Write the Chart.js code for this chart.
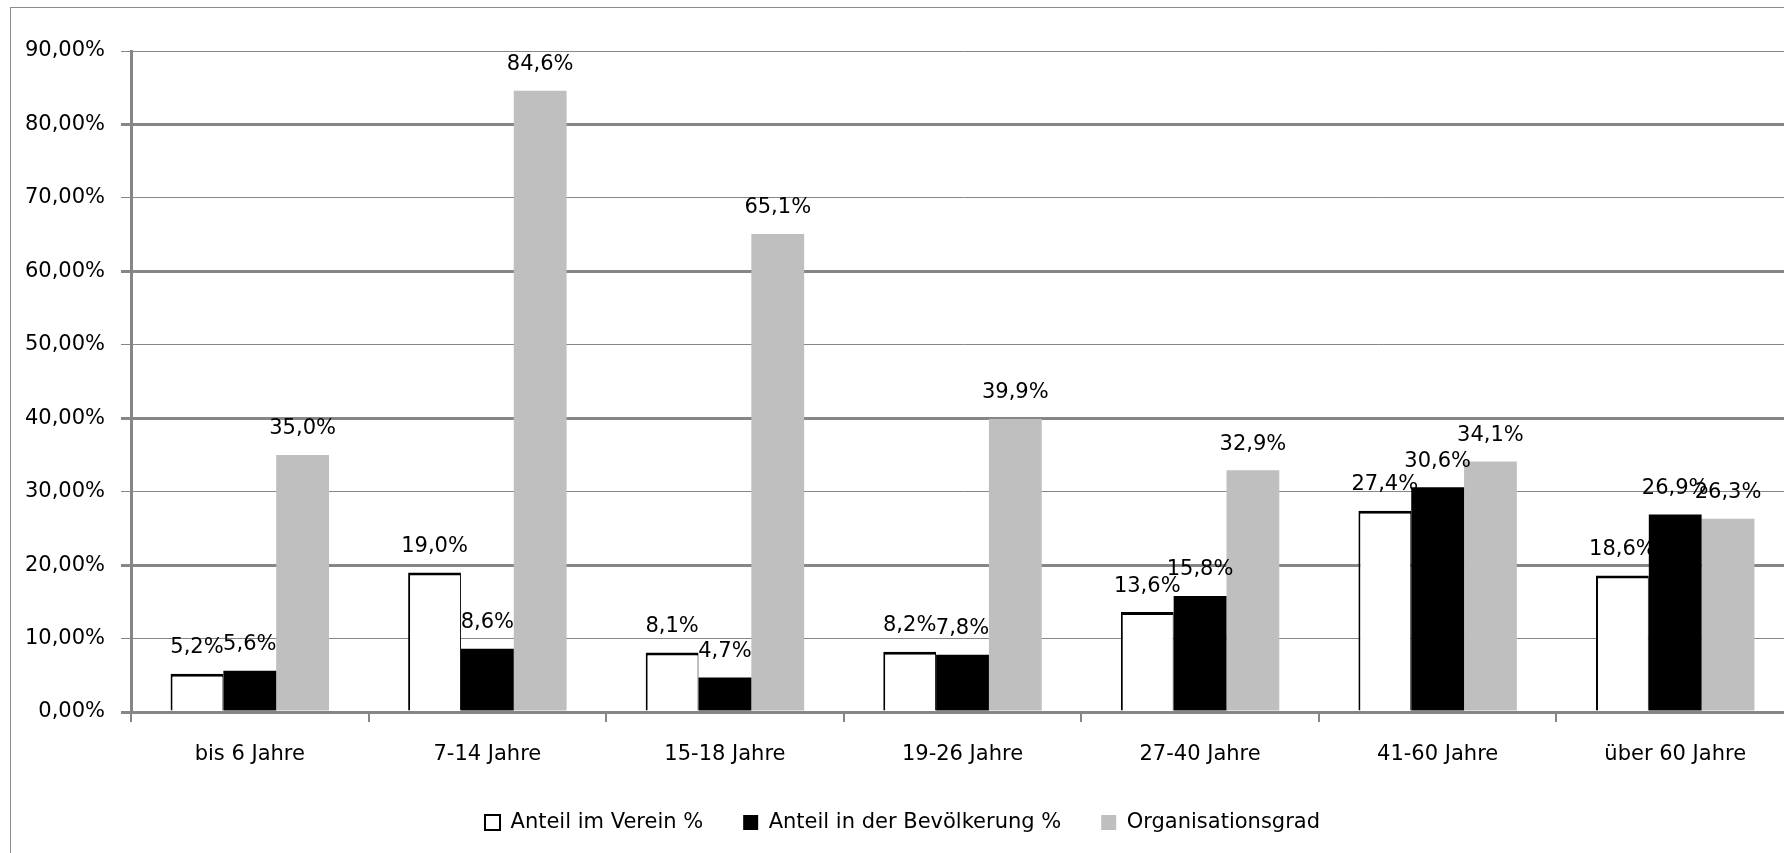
<!DOCTYPE html>
<html>
<head>
<meta charset="utf-8">
<script src="https://cdn.jsdelivr.net/npm/chart.js@4/dist/chart.umd.min.js"></script>
<style>
  html, body { margin: 0; padding: 0; background: #fff; overflow: hidden; }
  #frame {
    position: absolute; left: 10px; top: 7px; width: 1800px; height: 880px;
    border-left: 1px solid #8c8c8c; border-top: 1px solid #8c8c8c;
  }
</style>
</head>
<body>
<div id="frame"><canvas id="chart" width="1784" height="845"></canvas></div>
<script>
const categories = ["bis 6 Jahre", "7-14 Jahre", "15-18 Jahre", "19-26 Jahre", "27-40 Jahre", "41-60 Jahre", "über 60 Jahre"];
const anteilVerein = [5.2, 19.0, 8.1, 8.2, 13.6, 27.4, 18.6];
const anteilBevoelkerung = [5.6, 8.6, 4.7, 7.8, 15.8, 30.6, 26.9];
const organisationsgrad = [35.0, 84.6, 65.1, 39.9, 32.9, 34.1, 26.3];
const yMin = 0, yMax = 90, yStep = 10;

const GRID = "#868686";

function pct(v, d){ return v.toFixed(d).replace(".", ",") + "%"; }

// value labels above every bar
const barLabels = {
  id: "barLabels",
  afterDatasetsDraw(chart){
    const ctx = chart.ctx;
    ctx.save();
    ctx.font = "21px 'DejaVu Sans'";
    ctx.fillStyle = "#000";
    ctx.textAlign = "center";
    ctx.textBaseline = "middle";
    chart.data.datasets.forEach((ds, i) => {
      chart.getDatasetMeta(i).data.forEach((bar, j) => {
        ctx.fillText(pct(ds.data[j], 1), bar.x, bar.y - 26);
      });
    });
    ctx.restore();
  }
};

Chart.defaults.font.family = "'DejaVu Sans'";
Chart.defaults.font.size = 21;
Chart.defaults.color = "#000";

new Chart(document.getElementById("chart"), {
  type: "bar",
  data: {
    labels: categories,
    datasets: [
      { label: "Anteil im Verein %", data: anteilVerein, backgroundColor: "#fff", borderColor: "#000",
        borderWidth: { top: 3, left: 2, right: 1, bottom: 0 } },
      { label: "Anteil in der Bevölkerung %", data: anteilBevoelkerung, backgroundColor: "#000", borderWidth: 0 },
      { label: "Organisationsgrad", data: organisationsgrad, backgroundColor: "#bfbfbf", borderWidth: 0 }
    ]
  },
  options: {
    responsive: false,
    animation: false,
    layout: { padding: { left: 0, right: 1, top: 43, bottom: 10 } },
    datasets: { bar: { categoryPercentage: 0.667, barPercentage: 1 } },
    plugins: {
      tooltip: { enabled: false },
      legend: {
        position: "bottom",
        labels: {
          boxWidth: 15, boxHeight: 15, padding: 40,
          generateLabels: chart => Chart.defaults.plugins.legend.labels.generateLabels(chart).map((it, i) => ({
            ...it, lineWidth: i === 0 ? 2 : 0, strokeStyle: "#000"
          }))
        }
      }
    },
    scales: {
      x: {
        afterFit: s => { s.height = 60; },
        grid: { offset: true, drawOnChartArea: false, drawTicks: true, tickLength: 10, color: GRID, lineWidth: 2 },
        border: { display: false },
        ticks: { padding: 20 }
      },
      y: {
        min: yMin, max: yMax,
        afterFit: s => { s.width = 120; },
        ticks: { stepSize: yStep, padding: 16, callback: v => pct(v, 2) },
        grid: {
          color: GRID, tickLength: 10,
          lineWidth: c => (c.tick && c.tick.value % 20 === 0) ? 3 : 1
        },
        border: { display: true, color: GRID, width: 3 }
      }
    }
  },
  plugins: [barLabels]
});
</script>
</body>
</html>
